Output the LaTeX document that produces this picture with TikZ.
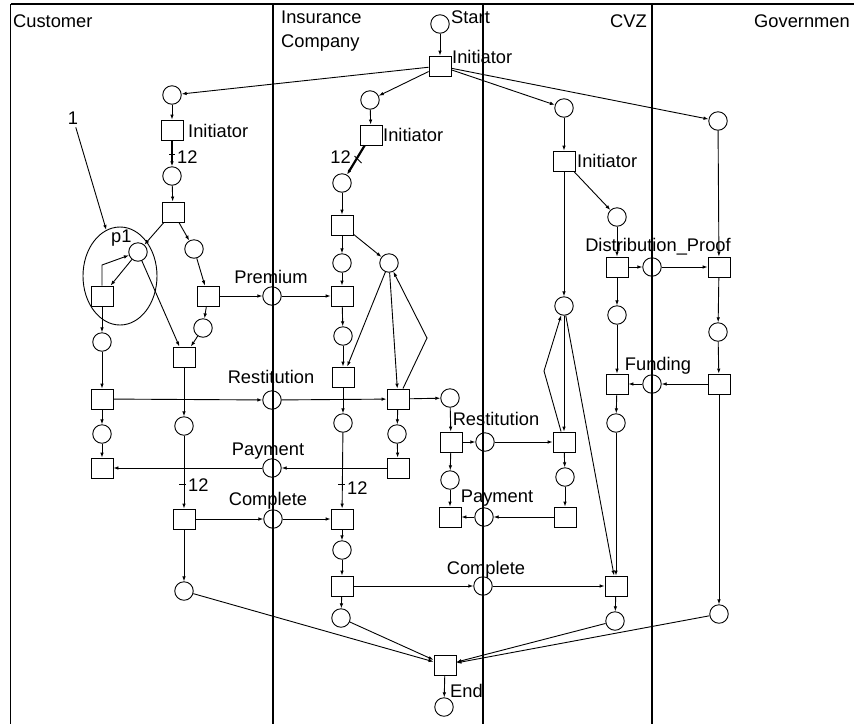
\documentclass[tikz,border=0pt]{standalone}
\usepackage{fontspec}
\setmainfont{Liberation Sans}
\usetikzlibrary{arrows.meta,shapes.geometric}
\begin{document}
\begin{tikzpicture}[x=1pt,y=-1pt,
  pn/.style={circle,draw,line width=0.9pt,minimum size=18.5pt,inner sep=0pt},
  tn/.style={rectangle,draw,line width=0.9pt,minimum width=22pt,minimum height=20pt,inner sep=0pt},
  flow/.style={-{Latex[length=5pt,width=3.6pt]},line width=0.9pt},
  thk/.style={flow,line width=2.2pt},
  lab/.style={inner sep=0pt,font=\fontsize{18.3}{22}\selectfont},
  lane/.style={line width=1.4pt},
  tk/.style={line width=0.9pt}]
\useasboundingbox (0,0) rectangle (854,724);
% lanes
\draw[lane] (10.5,4) -- (854,4);
\draw[lane] (10.5,4) -- (10.5,724);
\draw[lane] (273,4) -- (273,724);
\draw[lane] (483,4) -- (483,724);
\draw[lane] (652,4) -- (652,724);
\node[lab,anchor=base west] (hC) at (13,27) {Customer};
\node[lab,anchor=base west] (hI1) at (281,23) {Insurance};
\node[lab,anchor=base west] (hI2) at (281,47) {Company};
\node[lab,anchor=base east] (hV) at (647,27) {CVZ};
\node[lab,anchor=base west] (hG) at (754,27) {Governmen};
% places
\node[pn] (pStart) at (440,24) {};
\node[pn] (pc1) at (172,95) {};
\node[pn] (pc2) at (172,176) {};
\node[pn] (pP1) at (138,252) {};
\node[pn] (pc3) at (194,249) {};
\node[pn] (pc4) at (203,328) {};
\node[pn] (pc5) at (102,342) {};
\node[pn] (pc6) at (102,434) {};
\node[pn] (pc7) at (184,426) {};
\node[pn] (pc8) at (184,591) {};
\node[pn] (pPrem) at (272,296) {};
\node[pn] (pRest) at (272,400) {};
\node[pn] (pPay) at (272,468) {};
\node[pn] (pComp) at (273,519) {};
\node[pn] (pi1) at (370,100) {};
\node[pn] (pi2) at (342,183) {};
\node[pn] (pi3) at (342,263) {};
\node[pn] (pi4) at (389,263) {};
\node[pn] (pi5) at (343,336) {};
\node[pn] (pi6) at (343,423) {};
\node[pn] (pi7) at (397,434) {};
\node[pn] (pi8) at (450,398) {};
\node[pn] (pi9) at (450,480) {};
\node[pn] (pi10) at (342,550) {};
\node[pn] (pi11) at (341,618) {};
\node[pn] (pRest2) at (485,442) {};
\node[pn] (pPay2) at (484,517) {};
\node[pn] (pComp2) at (483,586) {};
\node[pn] (pv1) at (564,108) {};
\node[pn] (pv2) at (617,217) {};
\node[pn] (pv3) at (564,306) {};
\node[pn] (pv4) at (617,315) {};
\node[pn] (pv5) at (616,423) {};
\node[pn] (pv6) at (565,477) {};
\node[pn] (pv7) at (615,621) {};
\node[pn] (pDP) at (652,267) {};
\node[pn] (pFund) at (652,384) {};
\node[pn] (pg1) at (718,121) {};
\node[pn] (pg2) at (718,332) {};
\node[pn] (pg3) at (719,614) {};
\node[pn] (pEnd) at (444,707) {};
% transitions
\node[tn] (tInit) at (440,66) {};
\node[tn] (tc1) at (172,130) {};
\node[tn] (tc2) at (173,212) {};
\node[tn] (tP1) at (102,296) {};
\node[tn] (tc3) at (208,296) {};
\node[tn] (tc4) at (184,357) {};
\node[tn] (tc5) at (102,399) {};
\node[tn] (tc6) at (102,468) {};
\node[tn] (tc7) at (184,519) {};
\node[tn] (ti1) at (371,135) {};
\node[tn] (ti2) at (342,225) {};
\node[tn] (ti3) at (342,296) {};
\node[tn] (ti4) at (343,377) {};
\node[tn] (ti5) at (398,399) {};
\node[tn] (ti6) at (398,468) {};
\node[tn] (ti7) at (342,519) {};
\node[tn] (ti8) at (342,586) {};
\node[tn] (ti9) at (451,442) {};
\node[tn] (ti10) at (450,517) {};
\node[tn] (tv1) at (564,161) {};
\node[tn] (tv2) at (564,442) {};
\node[tn] (tv3) at (565,517) {};
\node[tn] (tv4) at (617,267) {};
\node[tn] (tv5) at (617,384) {};
\node[tn] (tv6) at (616,586) {};
\node[tn] (tg1) at (719,267) {};
\node[tn] (tg2) at (719,384) {};
\node[tn] (tEnd) at (445,665) {};
% ellipse and label 1
\node[ellipse,draw,line width=0.9pt,minimum width=74pt,minimum height=98pt,inner sep=0pt] (ell) at (120,276) {};
\node[lab] (lab1) at (73,118) {1};
\draw[flow,shorten <=3pt] (lab1) -- (ell);
% labels
\node[lab,anchor=base west] at (451,23) {Start};
\node[lab,anchor=base west] at (452,63) {Initiator};
\node[lab,anchor=base west] at (188,137) {Initiator};
\node[lab,anchor=base west] at (383,141) {Initiator};
\node[lab,anchor=base west] at (577,167) {Initiator};
\node[lab,anchor=base west] at (111,242) {p1};
\node[lab,anchor=base] at (271,283) {Premium};
\node[lab,anchor=base] at (271,383) {Restitution};
\node[lab,anchor=base] at (268,455) {Payment};
\node[lab,anchor=base] at (268,505) {Complete};
\node[lab,anchor=base] at (496,425) {Restitution};
\node[lab,anchor=base] at (497,502) {Payment};
\node[lab,anchor=base] at (486,574) {Complete};
\node[lab,anchor=base] at (658,251) {Distribution\_Proof};
\node[lab,anchor=base] at (658,370) {Funding};
\node[lab,anchor=base west] at (450,697) {End};
\node[lab,anchor=base west] at (177,163) {12};
\node[lab,anchor=base east] at (351,163) {12};
\node[lab,anchor=base west] at (188,491) {12};
\node[lab,anchor=base west] at (347,494) {12};
% ticks
\draw[tk] (169,154) -- (175,154);
\draw[tk] (354.5,156) -- (361.5,163);
\draw[tk] (179,484) -- (186,484);
\draw[tk] (338,484.5) -- (345,484.5);
% bends
\coordinate (bP1) at (102,265);
\coordinate (bI) at (427,338);
\coordinate (bV) at (544,371);
% arcs: top
\draw[flow] (pStart) -- (tInit);
\draw[flow] (tInit) -- (pc1);
\draw[flow] (tInit) -- (pi1);
\draw[flow] (tInit) -- (pv1);
\draw[flow] (tInit) -- (pg1);
% customer
\draw[flow] (pc1) -- (tc1);
\draw[thk] (tc1) -- (pc2);
\draw[flow] (pc2) -- (tc2);
\draw[flow] (tc2) -- (pP1);
\draw[flow] (tc2) -- (pc3);
\draw[flow] (pc3) -- (tc3);
\draw[flow] (tc3) -- (pPrem);
\draw[flow] (pPrem) -- (ti3);
\draw[flow] (tc3) -- (pc4);
\draw[flow] (pc4) -- (tc4);
\draw[flow] (pP1) -- (tc4);
\draw[flow] (tP1.north) -- (bP1) -- (pP1);
\draw[flow] (pP1) -- (tP1);
\draw[flow] (tP1) -- (pc5);
\draw[flow] (pc5) -- (tc5);
\draw[flow] (tc5) -- (pRest);
\draw[flow] (pRest) -- (ti5);
\draw[flow] (tc5) -- (pc6);
\draw[flow] (pc6) -- (tc6);
\draw[flow] (ti6) -- (pPay);
\draw[flow] (pPay) -- (tc6);
\draw[flow] (tc4) -- (pc7);
\draw[flow] (pc7) -- (tc7);
\draw[flow] (tc7) -- (pComp);
\draw[flow] (pComp) -- (ti7);
\draw[flow] (tc7) -- (pc8);
\draw[flow] (pc8) -- (tEnd);
% insurance
\draw[flow] (pi1) -- (ti1);
\draw[thk] (ti1) -- (pi2);
\draw[flow] (pi2) -- (ti2);
\draw[flow] (ti2) -- (pi3);
\draw[flow] (ti2) -- (pi4);
\draw[flow] (pi3) -- (ti3);
\draw[flow] (ti3) -- (pi5);
\draw[flow] (pi5) -- (ti4);
\draw[flow] (pi4) -- (ti4);
\draw[flow] (pi4) -- (ti5);
\draw[flow] (ti5) -- (bI) -- (pi4);
\draw[flow] (ti4) -- (pi6);
\draw[flow] (pi6) -- (ti7);
\draw[flow] (ti5) -- (pi7);
\draw[flow] (pi7) -- (ti6);
\draw[flow] (ti5) -- (pi8);
\draw[flow] (pi8) -- (ti9);
\draw[flow] (ti9) -- (pRest2);
\draw[flow] (pRest2) -- (tv2);
\draw[flow] (ti9) -- (pi9);
\draw[flow] (pi9) -- (ti10);
\draw[flow] (tv3) -- (pPay2);
\draw[flow] (pPay2) -- (ti10);
\draw[flow] (ti7) -- (pi10);
\draw[flow] (pi10) -- (ti8);
\draw[flow] (ti8) -- (pComp2);
\draw[flow] (pComp2) -- (tv6);
\draw[flow] (ti8) -- (pi11);
\draw[flow] (pi11) -- (tEnd);
% CVZ
\draw[flow] (pv1) -- (tv1);
\draw[flow] (tv1) -- (pv3);
\draw[flow] (tv1) -- (pv2);
\draw[flow] (pv2) -- (tv4);
\draw[flow] (tv4) -- (pDP);
\draw[flow] (pDP) -- (tg1);
\draw[flow] (tv4) -- (pv4);
\draw[flow] (pv4) -- (tv5);
\draw[flow] (tv5) -- (pv5);
\draw[flow] (pv5) -- (tv6);
\draw[flow] (pv3) -- (tv2);
\draw[flow] (tv2) -- (bV) -- (pv3);
\draw[flow] (pv3) -- (tv6);
\draw[flow] (tv2) -- (pv6);
\draw[flow] (pv6) -- (tv3);
\draw[flow] (tv6) -- (pv7);
\draw[flow] (pv7) -- (tEnd);
% government
\draw[flow] (pg1) -- (tg1);
\draw[flow] (tg1) -- (pg2);
\draw[flow] (pg2) -- (tg2);
\draw[flow] (tg2) -- (pFund);
\draw[flow] (pFund) -- (tv5);
\draw[flow] (tg2) -- (pg3);
\draw[flow] (pg3) -- (tEnd);
\draw[flow] (tEnd) -- (pEnd);
\end{tikzpicture}
\end{document}
